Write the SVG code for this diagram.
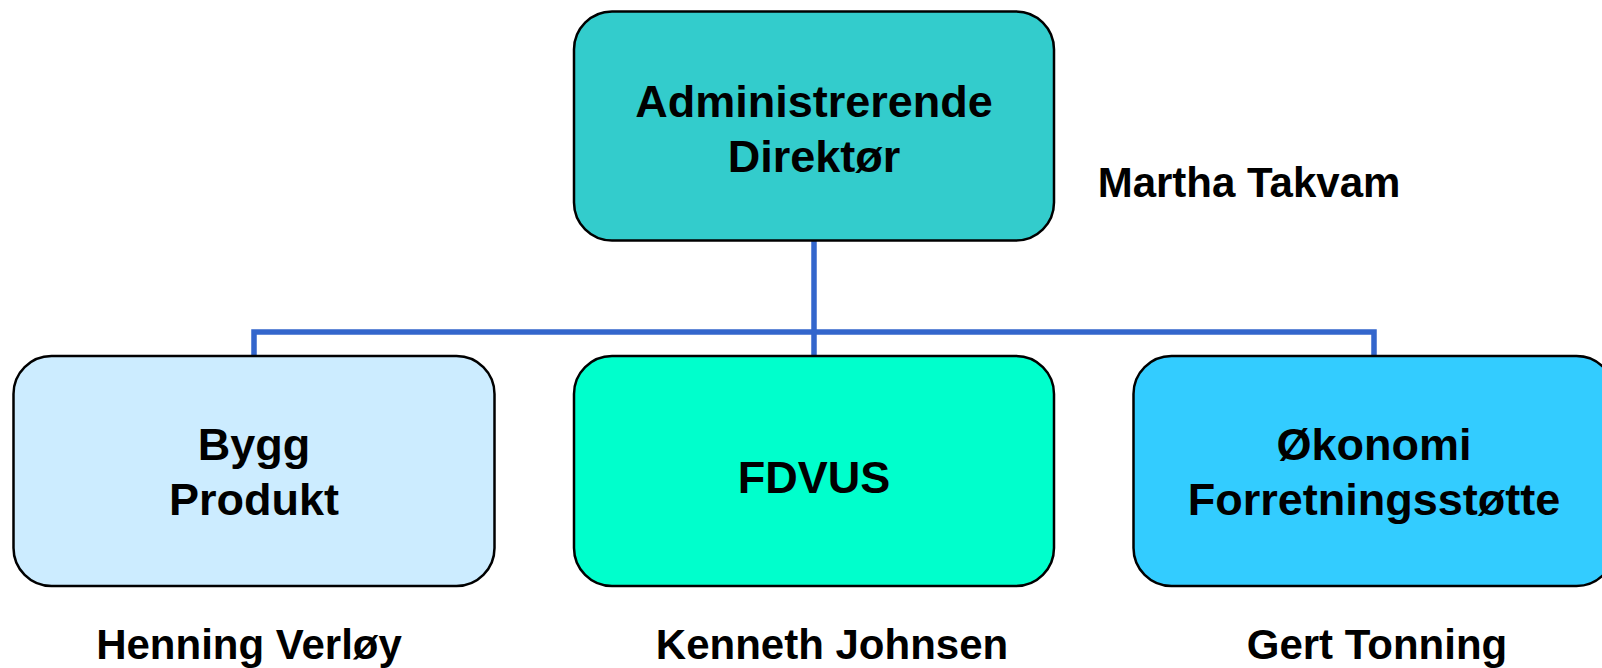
<svg xmlns="http://www.w3.org/2000/svg" width="1602" height="668" viewBox="0 0 1602 668">
<style>
.box{stroke:#000;stroke-width:2.5}
.t{font-family:"Liberation Sans",Arial,sans-serif;font-weight:bold;font-size:45px;text-anchor:middle;fill:#000}
.n{font-family:"Liberation Sans",Arial,sans-serif;font-weight:bold;font-size:42px;text-anchor:middle;fill:#000}
.c{fill:none;stroke:#3366CC;stroke-width:5.5}
</style>
<rect width="1602" height="668" fill="#fff"/>
<g id="connectors">
<path class="c" d="M814 241 V332"/>
<path class="c" d="M254 356 V332 H1374 V356"/>
<path class="c" d="M814 332 V356"/>
</g>
<g id="node-admin">
<rect class="box" x="574" y="11.5" width="480" height="229" rx="38" fill="#33CCCC"/>
<text class="t" x="814" y="116.5">Administrerende</text>
<text class="t" x="814" y="171.5">Direktør</text>
</g>
<text class="n" x="1249" y="196.5">Martha Takvam</text>
<g id="node-bygg">
<rect class="box" x="13.5" y="356" width="481" height="230" rx="38" fill="#CCECFF"/>
<text class="t" x="254" y="460">Bygg</text>
<text class="t" x="254" y="515">Produkt</text>
</g>
<text class="n" x="249" y="659">Henning Verløy</text>
<g id="node-fdvus">
<rect class="box" x="574" y="356" width="480" height="230" rx="38" fill="#00FFCC"/>
<text class="t" x="814" y="492.5">FDVUS</text>
</g>
<text class="n" x="832" y="659">Kenneth Johnsen</text>
<g id="node-okonomi">
<rect class="box" x="1133.5" y="356" width="481" height="230" rx="38" fill="#33CCFF"/>
<text class="t" x="1374" y="460">Økonomi</text>
<text class="t" x="1374" y="515">Forretningsstøtte</text>
</g>
<text class="n" x="1377" y="659">Gert Tonning</text>
</svg>
